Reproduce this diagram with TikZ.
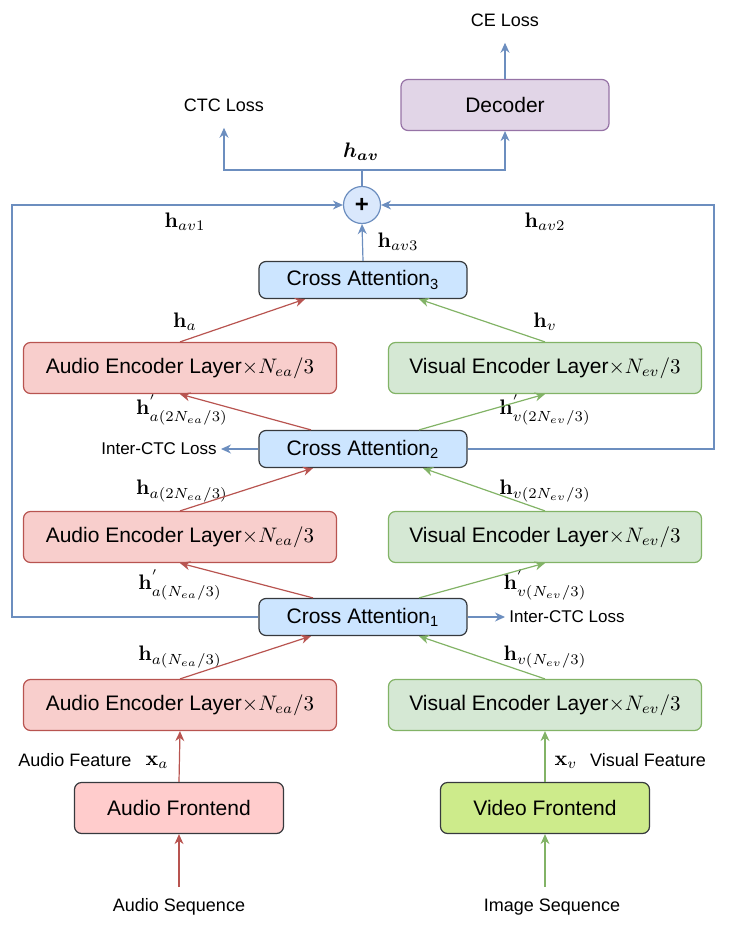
\RequirePackage{fix-cm}
\documentclass[tikz,border=0pt]{standalone}
\usepackage{amsmath}
\usepackage[no-math]{fontspec}
\setmainfont{Liberation Sans}
\usetikzlibrary{positioning,arrows.meta}
\definecolor{cCa}{HTML}{CCE5FF}
\definecolor{cDark}{HTML}{36393D}
\definecolor{cAud}{HTML}{F8CECC}
\definecolor{cAudL}{HTML}{B85450}
\definecolor{cVis}{HTML}{D5E8D4}
\definecolor{cVisL}{HTML}{82B366}
\definecolor{cAfe}{HTML}{FFCCCC}
\definecolor{cVfe}{HTML}{CDEB8B}
\definecolor{cDec}{HTML}{E1D5E7}
\definecolor{cDecL}{HTML}{9673A6}
\definecolor{cSum}{HTML}{DAE8FC}
\definecolor{cBlue}{HTML}{6C8EBF}
\tikzset{
  base/.style   ={rounded corners=3.5pt, draw, align=center,
                  font=\fontsize{10.5}{12}\selectfont, inner sep=2pt, line width=0.6pt},
  canode/.style ={base, fill=cCa,  draw=cDark,  minimum width=104pt,   minimum height=18.5pt},
  aenode/.style ={base, fill=cAud, draw=cAudL,  minimum width=156.5pt, minimum height=25.5pt},
  venode/.style ={base, fill=cVis, draw=cVisL,  minimum width=156.5pt, minimum height=25.5pt},
  afnode/.style ={base, fill=cAfe, draw=cDark,  minimum width=104.5pt, minimum height=25.5pt},
  vfnode/.style ={base, fill=cVfe, draw=cDark,  minimum width=104.5pt, minimum height=25.5pt},
  dnode/.style  ={base, fill=cDec, draw=cDecL,  minimum width=104pt,   minimum height=25.5pt},
  snode/.style  ={circle, draw=cBlue, fill=cSum, line width=0.6pt, minimum size=18.5pt,
                  inner sep=0pt, font=\fontsize{12}{12}\selectfont\bfseries},
  txt/.style    ={font=\fontsize{9}{11}\selectfont, inner sep=1pt},
  stxt/.style   ={font=\fontsize{8.5}{10}\selectfont, inner sep=2pt},
  lbl/.style    ={font=\fontsize{10.5}{12}\selectfont, inner sep=1pt},
  line/.style   ={line width=0.6pt},
  barr/.style   ={line, draw=cBlue, -{Stealth[length=5pt,width=4.5pt]}},
  rarr/.style   ={line, draw=cAudL, -{Stealth[length=5pt,width=4.5pt]}},
  garr/.style   ={line, draw=cVisL, -{Stealth[length=5pt,width=4.5pt]}},
}
\begin{document}
\begin{tikzpicture}[x=0.5pt, y=-0.5pt]
\useasboundingbox (0,0) rectangle (748,931);

% output side
\node[dnode] (dec) at (505,105) {Decoder};
\node[txt] (ce) at (505,20) {CE Loss};
\node[txt] (ctc) at (224,105) {CTC Loss};
\node[snode] (sum) at (362,205) {+};
\coordinate (split) at (362,170);
\coordinate (lft) at (12,205);
\coordinate (rgt) at (714,205);

% fusion stack
\node[canode] (ca3) at (363,280) {Cross Attention\textsubscript{3}};
\node[aenode] (aenc3) at (180,368) {Audio Encoder Layer$\times N_{ea}/3$};
\node[venode] (venc3) at (545,368) {Visual Encoder Layer$\times N_{ev}/3$};
\node[canode] (ca2) at (363,449) {Cross Attention\textsubscript{2}};
\node[aenode] (aenc2) at (180,537) {Audio Encoder Layer$\times N_{ea}/3$};
\node[venode] (venc2) at (545,537) {Visual Encoder Layer$\times N_{ev}/3$};
\node[canode] (ca1) at (363,617) {Cross Attention\textsubscript{1}};
\node[aenode] (aenc1) at (180,705) {Audio Encoder Layer$\times N_{ea}/3$};
\node[venode] (venc1) at (545,705) {Visual Encoder Layer$\times N_{ev}/3$};
\node[stxt, anchor=east] (ictc2) at (221,449) {Inter-CTC Loss};
\node[stxt, anchor=west] (ictc1) at (505,617) {Inter-CTC Loss};

% front ends
\node[afnode] (afe) at (179,808) {Audio Frontend};
\node[vfnode] (vfe) at (545,808) {Video Frontend};
\node[txt] (aseq) at (179,907) {Audio Sequence};
\node[txt] (iseq) at (552,907) {Image Sequence};
\coordinate (ain) at (179,887);
\coordinate (iin) at (545,887);
\node[txt] (afeat) at (75,760) {Audio Feature};
\node[txt] (vfeat) at (648,760) {Visual Feature};

% labels
\node[lbl] at (361,152) {$\boldsymbol{h_{av}}$};
\node[lbl] at (185,222) {$\mathbf{h}_{av1}$};
\node[lbl] at (545,222) {$\mathbf{h}_{av2}$};
\node[lbl] at (398,242) {$\mathbf{h}_{av3}$};
\node[lbl] at (185,322) {$\mathbf{h}_{a}$};
\node[lbl] at (545,322) {$\mathbf{h}_{v}$};
\node[lbl] at (182,410) {$\mathbf{h}^{'}_{a(2N_{ea}/3)}$};
\node[lbl] at (545,410) {$\mathbf{h}^{'}_{v(2N_{ev}/3)}$};
\node[lbl] at (182,491) {$\mathbf{h}_{a(2N_{ea}/3)}$};
\node[lbl] at (545,491) {$\mathbf{h}_{v(2N_{ev}/3)}$};
\node[lbl] at (180,585) {$\mathbf{h}^{'}_{a(N_{ea}/3)}$};
\node[lbl] at (545,585) {$\mathbf{h}^{'}_{v(N_{ev}/3)}$};
\node[lbl] at (180,657) {$\mathbf{h}_{a(N_{ea}/3)}$};
\node[lbl] at (545,657) {$\mathbf{h}_{v(N_{ev}/3)}$};
\node[lbl] at (157,762) {$\mathbf{x}_{a}$};
\node[lbl] at (566,762) {$\mathbf{x}_{v}$};

% blue connectors
\draw[line, draw=cBlue] (sum.north) -- (split);
\draw[barr] (split) -| ([yshift=-7pt]ctc.south);
\draw[barr] (split) -| (dec.south);
\draw[barr] (dec.north) -- ([yshift=-7pt]ce.south);
\draw[barr] (ca3.north) -- (sum.south);
\draw[barr] (ca1.west) -| (lft) -- (sum.west);
\draw[barr] (ca2.east) -| (rgt) -- (sum.east);
\draw[barr] (ca2.west) -- (ictc2.east);
\draw[barr] (ca1.east) -- (ictc1.west);

% audio / visual connectors
\draw[rarr] (aenc3.north) -- ([xshift=-29pt]ca3.south);
\draw[garr] (venc3.north) -- ([xshift=28pt]ca3.south);
\draw[rarr] ([xshift=-26pt]ca2.north) -- (aenc3.south);
\draw[garr] ([xshift=28pt]ca2.north) -- (venc3.south);
\draw[rarr] (aenc2.north) -- ([xshift=-25pt]ca2.south);
\draw[garr] (venc2.north) -- ([xshift=30pt]ca2.south);
\draw[rarr] ([xshift=-25pt]ca1.north) -- (aenc2.south);
\draw[garr] ([xshift=28pt]ca1.north) -- (venc2.south);
\draw[rarr] (aenc1.north) -- ([xshift=-26pt]ca1.south);
\draw[garr] (venc1.north) -- ([xshift=28pt]ca1.south);
\draw[rarr] (afe.north) -- (aenc1.south);
\draw[garr] (vfe.north) -- (venc1.south);
\draw[rarr] (ain) -- (afe.south);
\draw[garr] (iin) -- (vfe.south);
\end{tikzpicture}
\end{document}
